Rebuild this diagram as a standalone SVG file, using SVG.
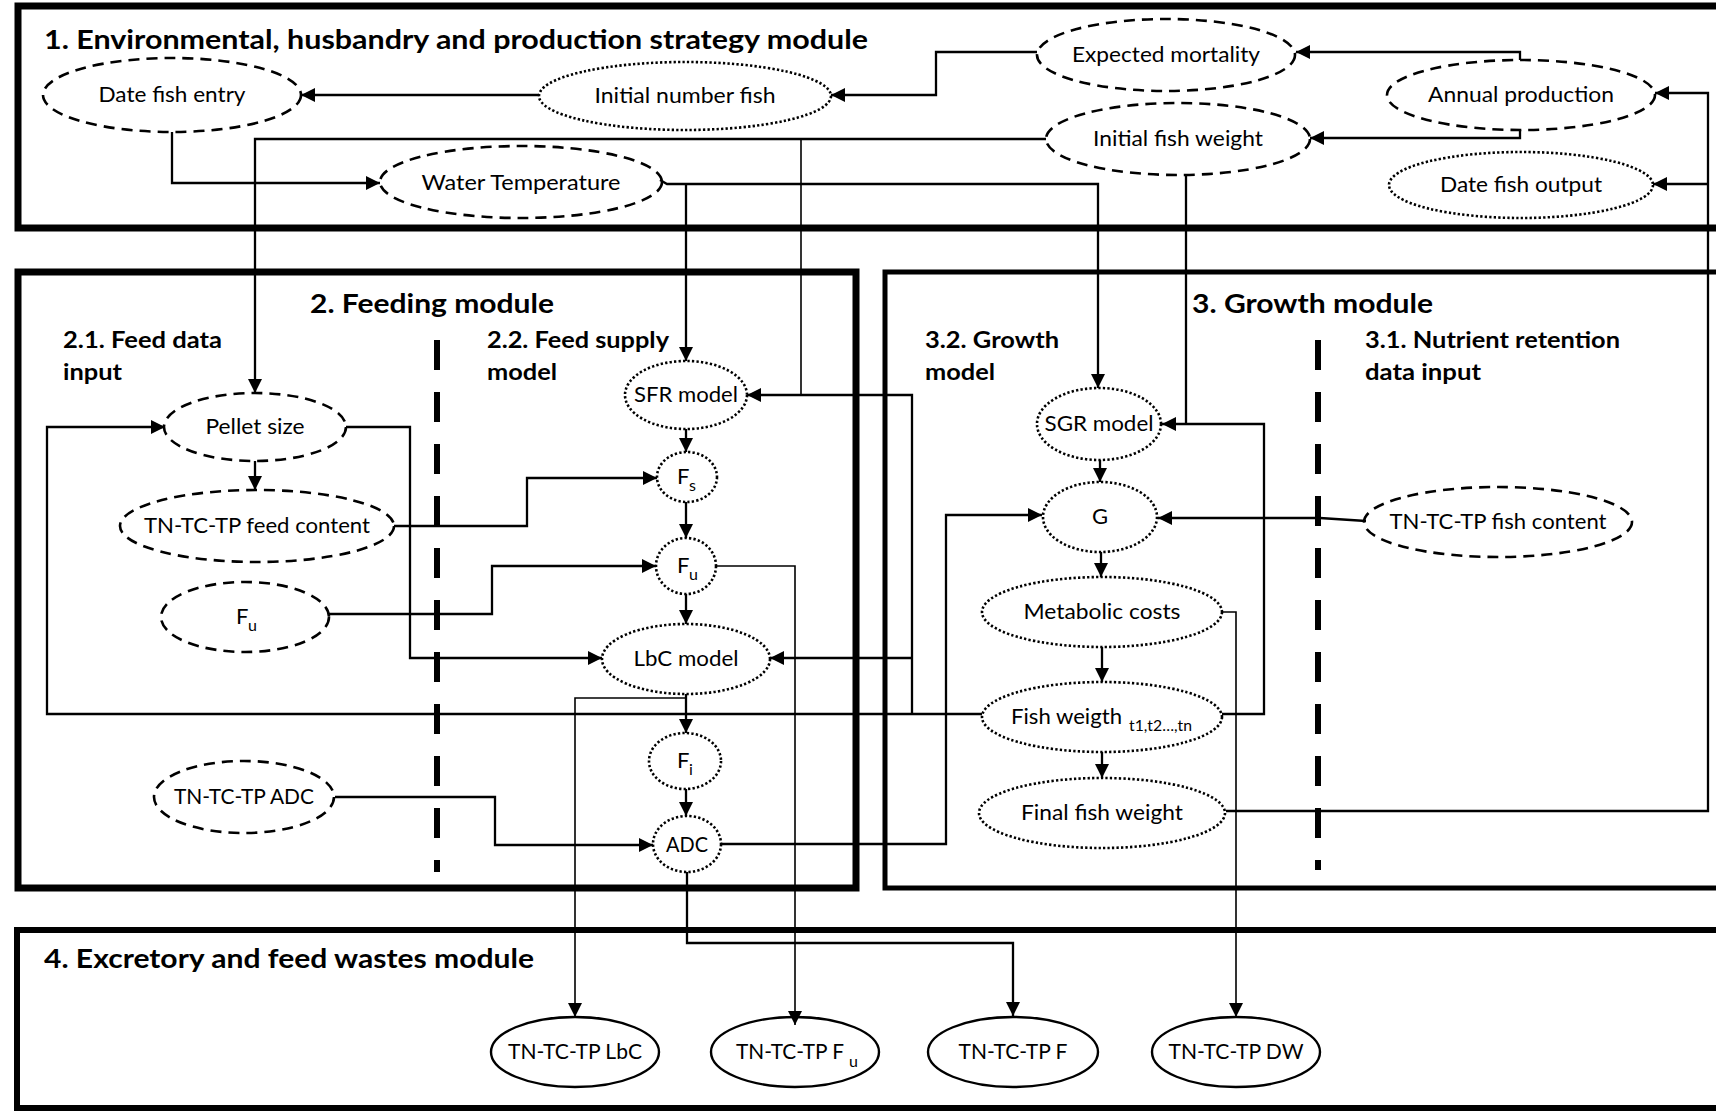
<svg xmlns="http://www.w3.org/2000/svg" width="1716" height="1111" viewBox="0 0 1716 1111">
<defs>
<marker id="ah" markerUnits="userSpaceOnUse" markerWidth="15" markerHeight="14" refX="14" refY="7" orient="auto">
<path d="M0,0 L14,7 L0,14 z" fill="#000"/>
</marker>
<style>
.box{fill:none;stroke:#000}
.dash{fill:none;stroke:#000;stroke-width:2.6;stroke-dasharray:11 7}
.dot{fill:none;stroke:#000;stroke-width:2.6;stroke-dasharray:2.3 2.2}
.sol{fill:none;stroke:#000;stroke-width:2.4}
.sep{stroke:#000;stroke-width:6;stroke-dasharray:30 22}
.c{fill:none;stroke:#000;stroke-width:2.3}
.a{marker-end:url(#ah)}
.t{stroke-width:1.6}
text{font-family:Lato,'Liberation Sans',Arial,sans-serif;fill:#000}
.lb{font-size:22px;text-anchor:middle}
.ls{font-size:22px}
.hd{font-size:27px;font-weight:bold}
.sh{font-size:23px;font-weight:bold}
.sb{font-size:16px}
</style>
</defs>
<rect x="0" y="0" width="1716" height="1111" fill="#fff"/>

<!-- module frames -->
<g id="modules">
<rect class="box" x="18" y="6" width="1720" height="222" stroke-width="7"/>
<rect class="box" x="18" y="272" width="838" height="616" stroke-width="7"/>
<rect class="box" x="885" y="272" width="860" height="616" stroke-width="5"/>
<rect class="box" x="17" y="930" width="1720" height="178" stroke-width="6"/>
<line class="sep" x1="437" y1="340" x2="437" y2="872"/>
<line class="sep" x1="1318" y1="340" x2="1318" y2="870"/>
</g>

<!-- module headings -->
<g id="headings">
<text class="hd" x="44" y="49" textLength="824" lengthAdjust="spacingAndGlyphs">1. Environmental, husbandry and production strategy module</text>
<text class="hd" x="310" y="313" textLength="244" lengthAdjust="spacingAndGlyphs">2. Feeding module</text>
<text class="sh" x="63" y="348" textLength="159" lengthAdjust="spacingAndGlyphs">2.1. Feed data</text>
<text class="sh" x="63" y="380" textLength="59" lengthAdjust="spacingAndGlyphs">input</text>
<text class="sh" x="487" y="348" textLength="182" lengthAdjust="spacingAndGlyphs">2.2. Feed supply</text>
<text class="sh" x="487" y="380" textLength="70" lengthAdjust="spacingAndGlyphs">model</text>
<text class="hd" x="1192" y="313" textLength="241" lengthAdjust="spacingAndGlyphs">3. Growth module</text>
<text class="sh" x="925" y="348" textLength="134" lengthAdjust="spacingAndGlyphs">3.2. Growth</text>
<text class="sh" x="925" y="380" textLength="70" lengthAdjust="spacingAndGlyphs">model</text>
<text class="sh" x="1365" y="348" textLength="255" lengthAdjust="spacingAndGlyphs">3.1. Nutrient retention</text>
<text class="sh" x="1365" y="380" textLength="116" lengthAdjust="spacingAndGlyphs">data input</text>
<text class="hd" x="44" y="968" textLength="490" lengthAdjust="spacingAndGlyphs">4. Excretory and feed wastes module</text>
</g>

<!-- 1. environmental, husbandry and production strategy -->
<g id="date-fish-entry"><ellipse class="dash" cx="172" cy="95" rx="129" ry="37"/><text class="lb" x="172" y="102" textLength="147" lengthAdjust="spacingAndGlyphs">Date fish entry</text></g>
<g id="initial-number-fish"><ellipse class="dot" cx="685" cy="96" rx="146" ry="34"/><text class="lb" x="685" y="103" textLength="181" lengthAdjust="spacingAndGlyphs">Initial number fish</text></g>
<g id="expected-mortality"><ellipse class="dash" cx="1166" cy="55" rx="129" ry="36"/><text class="lb" x="1166" y="62" textLength="188" lengthAdjust="spacingAndGlyphs">Expected mortality</text></g>
<g id="annual-production"><ellipse class="dash" cx="1521" cy="95" rx="134" ry="35"/><text class="lb" x="1521" y="102" textLength="186" lengthAdjust="spacingAndGlyphs">Annual production</text></g>
<g id="initial-fish-weight"><ellipse class="dash" cx="1178" cy="139" rx="132" ry="36"/><text class="lb" x="1178" y="146" textLength="170" lengthAdjust="spacingAndGlyphs">Initial fish weight</text></g>
<g id="date-fish-output"><ellipse class="dot" cx="1521" cy="185" rx="132" ry="33"/><text class="lb" x="1521" y="192" textLength="162" lengthAdjust="spacingAndGlyphs">Date fish output</text></g>
<g id="water-temperature"><ellipse class="dash" cx="521" cy="182" rx="141" ry="36"/><text class="lb" x="521" y="190" textLength="199" lengthAdjust="spacingAndGlyphs">Water Temperature</text></g>

<!-- 2. feeding -->
<g id="pellet-size"><ellipse class="dash" cx="255" cy="427" rx="91" ry="34"/><text class="lb" x="255" y="434" textLength="99" lengthAdjust="spacingAndGlyphs">Pellet size</text></g>
<g id="feed-content"><ellipse class="dash" cx="257" cy="526" rx="137" ry="36"/><text class="lb" x="257" y="533" textLength="226" lengthAdjust="spacingAndGlyphs">TN-TC-TP feed content</text></g>
<g id="fu-input"><ellipse class="dash" cx="245" cy="617" rx="84" ry="35"/><text class="ls"><tspan x="236" y="624">F</tspan><tspan class="sb" x="248" y="631">u</tspan></text></g>
<g id="adc-input"><ellipse class="dash" cx="244" cy="797" rx="90" ry="36"/><text class="lb" x="244" y="804" textLength="140" lengthAdjust="spacingAndGlyphs">TN-TC-TP ADC</text></g>
<g id="sfr-model"><ellipse class="dot" cx="686" cy="395" rx="61" ry="34"/><text class="lb" x="686" y="402" textLength="104" lengthAdjust="spacingAndGlyphs">SFR model</text></g>
<g id="fs"><ellipse class="dot" cx="687" cy="477" rx="30" ry="25"/><text class="ls"><tspan x="677" y="484">F</tspan><tspan class="sb" x="689" y="491">s</tspan></text></g>
<g id="fu"><ellipse class="dot" cx="686" cy="566" rx="30" ry="28"/><text class="ls"><tspan x="677" y="573">F</tspan><tspan class="sb" x="689" y="580">u</tspan></text></g>
<g id="lbc-model"><ellipse class="dot" cx="686" cy="659" rx="84" ry="35"/><text class="lb" x="686" y="666" textLength="105" lengthAdjust="spacingAndGlyphs">LbC model</text></g>
<g id="fi"><ellipse class="dot" cx="685" cy="761" rx="36" ry="28"/><text class="ls"><tspan x="677" y="768">F</tspan><tspan class="sb" x="689" y="775">i</tspan></text></g>
<g id="adc"><ellipse class="dot" cx="687" cy="844" rx="34" ry="28"/><text class="lb" x="687" y="852" textLength="42" lengthAdjust="spacingAndGlyphs">ADC</text></g>

<!-- 3. growth -->
<g id="sgr-model"><ellipse class="dot" cx="1099" cy="424" rx="62" ry="36"/><text class="lb" x="1099" y="431" textLength="109" lengthAdjust="spacingAndGlyphs">SGR model</text></g>
<g id="g"><ellipse class="dot" cx="1100" cy="517" rx="57" ry="35"/><text class="lb" x="1100" y="524">G</text></g>
<g id="metabolic-costs"><ellipse class="dot" cx="1102" cy="612" rx="120" ry="35"/><text class="lb" x="1102" y="619" textLength="157" lengthAdjust="spacingAndGlyphs">Metabolic costs</text></g>
<g id="fish-weight"><ellipse class="dot" cx="1102" cy="717" rx="120" ry="35"/><text class="ls" x="1011" y="724" textLength="111" lengthAdjust="spacingAndGlyphs">Fish weigth</text><text class="sb" x="1129" y="731" textLength="63" lengthAdjust="spacingAndGlyphs">t1,t2…,tn</text></g>
<g id="final-fish-weight"><ellipse class="dot" cx="1102" cy="813" rx="123" ry="35"/><text class="lb" x="1102" y="820" textLength="162" lengthAdjust="spacingAndGlyphs">Final fish weight</text></g>
<g id="fish-content"><ellipse class="dash" cx="1498" cy="522" rx="134" ry="35"/><text class="lb" x="1498" y="529" textLength="217" lengthAdjust="spacingAndGlyphs">TN-TC-TP fish content</text></g>

<!-- 4. excretory and feed wastes -->
<g id="waste-lbc"><ellipse class="sol" cx="575" cy="1052" rx="84" ry="35"/><text class="lb" x="575" y="1059" textLength="134" lengthAdjust="spacingAndGlyphs">TN-TC-TP LbC</text></g>
<g id="waste-fu"><ellipse class="sol" cx="795" cy="1052" rx="84" ry="35"/><text class="ls"><tspan x="736" y="1059" textLength="108" lengthAdjust="spacingAndGlyphs">TN-TC-TP F</tspan><tspan class="sb" x="849" y="1067">u</tspan></text></g>
<g id="waste-f"><ellipse class="sol" cx="1013" cy="1052" rx="85" ry="35"/><text class="lb" x="1013" y="1059" textLength="109" lengthAdjust="spacingAndGlyphs">TN-TC-TP F</text></g>
<g id="waste-dw"><ellipse class="sol" cx="1236" cy="1052" rx="84" ry="35"/><text class="lb" x="1236" y="1059" textLength="135" lengthAdjust="spacingAndGlyphs">TN-TC-TP DW</text></g>

<!-- connectors -->
<g id="connectors">
<path class="c a" d="M539,95 H301"/>
<path class="c a" d="M1037,52 H936 V95 H831"/>
<path class="c a" d="M1520,60 V52 H1296"/>
<path class="c a" d="M1520,130 V138 H1310"/>
<path class="c a" d="M1226,811 H1708 V93 H1655"/>
<path class="c a" d="M1708,184 H1653"/>
<path class="c a" d="M172,132 V183 H380"/>
<path class="c a" d="M1046,139 H255 V393"/>
<path class="c t" d="M801,139 V395"/>
<path class="c a" d="M660,180 L667,184 H1098 V388"/>
<path class="c a" d="M686,184 V361"/>
<path class="c" d="M1186,175 V424" stroke-width="1.4"/>
<path class="c a" d="M912,714 V395 H747"/>
<path class="c a" d="M912,658 H770"/>
<path class="c a" d="M982,714 H47 V427 H165"/>
<path class="c a" d="M394,526 H527 V478 H657"/>
<path class="c a" d="M329,614 H492 V566 H656"/>
<path class="c a" d="M346,427 H410 V658 H602"/>
<path class="c a" d="M335,797 H495 V845 H653"/>
<path class="c a" d="M686,429 V452"/>
<path class="c a" d="M686,502 V538"/>
<path class="c a" d="M686,594 V624"/>
<path class="c a" d="M686,694 V733"/>
<path class="c a" d="M686,789 V816"/>
<path class="c a" d="M255,461 V490"/>
<path class="c t a" d="M716,566 H795 V1025"/>
<path class="c t a" d="M686,698 H575 V1017"/>
<path class="c a" d="M687,872 V943 H1013 V1016"/>
<path class="c a" d="M721,844 H946 V515 H1042"/>
<path class="c a" d="M1100,460 V482"/>
<path class="c a" d="M1101,552 V577"/>
<path class="c a" d="M1102,647 V682"/>
<path class="c a" d="M1102,752 V778"/>
<path class="c a" d="M1366,521 L1320,518 H1158"/>
<path class="c t a" d="M1222,612 H1236 V1017"/>
<path class="c a" d="M1222,714 H1264 V424 H1162"/>
</g>
</svg>
